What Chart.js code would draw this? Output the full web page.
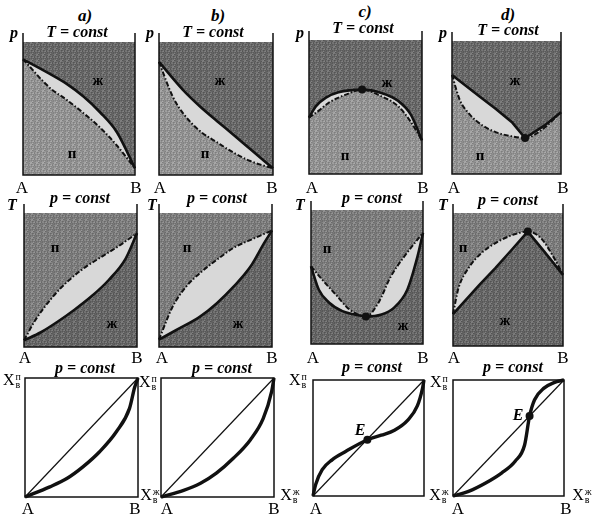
<!DOCTYPE html>
<html lang="ru">
<head>
<meta charset="utf-8">
<script src="https://cdn.jsdelivr.net/npm/chart.js"></script>
<style>
    body { margin: 0; background: #fff; }
    #fig { position: relative; width: 595px; height: 522px; overflow: hidden;
           font-family: "Liberation Serif", "DejaVu Serif", serif; color: #000; }
    #fig canvas { position: absolute; }
    .t { position: absolute; transform: translate(-50%, -50%); white-space: nowrap; line-height: 1; }
    .bi { font-weight: bold; font-style: italic; font-size: 16px; }
    .hd { font-weight: bold; font-style: italic; font-size: 17px; }
    .ab { font-size: 17px; }
    .ru { font-weight: bold; font-size: 15px; }
    .x { font-size: 16px; }
    .ss { display: inline-block; vertical-align: middle; font-size: 10px; line-height: 8px; margin-left: 1px; }
    .ss span { display: block; }
</style>
<title>Phase diagrams</title>
</head>
<body>
<div id="fig"></div>

<script>
    // x = mole fraction of B (A = 0, B = 1), y = fraction of the box height

    // row 1: p–x, T = const  (solid = liquid, dash-dot = vapour)
    const pxLiqA = [[0, .87], [.24, .76], [.39, .685], [.54, .59], [.69, .47], [.84, .32], [1, .05]];
    const pxVapA = [[0, .87], [.24, .655], [.39, .565], [.54, .465], [.69, .355], [.84, .22], [1, .05]];
    const pxLiqB = [[0, .85], [.21, .64], [.36, .515], [.51, .405], [.65, .305], [.8, .195], [1, .05]];
    const pxVapB = [[0, .85], [.12, .59], [.21, .465], [.36, .33], [.51, .245], [.65, .17], [.8, .105], [1, .05]];
    const pxLiqC = [[0, .42], [.06, .505], [.15, .57], [.26, .61], [.47, .63], [.64, .605], [.79, .545], [.9, .445], [1, .25]];
    const pxVapC = [[0, .42], [.09, .475], [.18, .535], [.32, .59], [.47, .63], [.64, .58], [.79, .505], [.9, .39], [1, .25]];
    const pxLiqD = [[0, .745], [.25, .585], [.4, .49], [.55, .39], [.67, .27], [.85, .365], [1, .465]];
    const pxVapD = [[0, .745], [.07, .56], [.16, .45], [.28, .365], [.4, .315], [.55, .283], [.67, .27], [.82, .33], [1, .465]];
    const pxAzeoC = [[.47, .63]];
    const pxAzeoD = [[.67, .27]];

    // row 2: T–x, p = const
    const txLiqA = [[0, .05], [.15, .11], [.3, .19], [.45, .28], [.6, .38], [.75, .5], [.9, .66], [1, .85]];
    const txVapA = [[0, .05], [.1, .2], [.25, .37], [.4, .5], [.55, .6], [.7, .68], [.85, .76], [1, .85]];
    const txLiqB = [[0, .055], [.15, .125], [.36, .225], [.51, .325], [.66, .45], [.81, .6], [.93, .775], [1, .87]];
    const txVapB = [[0, .055], [.12, .3], [.24, .45], [.36, .55], [.51, .65], [.66, .74], [.84, .81], [1, .87]];
    const txLiqC = [[0, .58], [.07, .405], [.16, .31], [.28, .245], [.39, .22], [.49, .205], [.63, .22], [.74, .27], [.86, .405], [.95, .65], [1, .83]];
    const txVapC = [[0, .58], [.1, .48], [.22, .37], [.34, .26], [.49, .205], [.6, .305], [.71, .5], [.83, .65], [1, .83]];
    const txLiqD = [[0, .24], [.24, .46], [.385, .585], [.53, .72], [.68, .86], [.83, .71], [1, .535]];
    const txVapD = [[0, .24], [.05, .435], [.14, .585], [.26, .7], [.41, .785], [.56, .84], [.68, .86], [.8, .81], [.92, .66], [1, .535]];
    const txAzeoC = [[.49, .205]];
    const txAzeoD = [[.68, .86]];

    // row 3: y–x, p = const
    const diag = [[0, 0], [1, 1]];
    const yxA = [[0, 0], [.22, .085], [.37, .155], [.515, .255], [.66, .38], [.81, .55], [.925, .745], [.97, .92], [1, 1]];
    const yxB = [[0, 0], [.2, .055], [.35, .115], [.49, .2], [.64, .325], [.79, .48], [.905, .66], [.98, .89], [1, 1]];
    const yxC = [[0, 0], [.024, .1], [.083, .227], [.172, .312], [.29, .382], [.49, .485], [.615, .524], [.734, .567], [.852, .652], [.941, .779], [.985, .921], [1, 1]];
    const yxD = [[0, 0], [.14, .04], [.29, .11], [.44, .2], [.56, .3], [.645, .44], [.69, .69], [.735, .83], [.82, .93], [.91, .978], [1, 1]];
    const yxAzeoC = [[.49, .485]];
    const yxAzeoD = [[.69, .69]];

    const fig = document.getElementById('fig');
    const pts = a => a.map(([x, y]) => ({ x, y }));
    const DASH = [5, 2, 1.5, 2];

    // grey stipple like the scanned halftone
    function shade(g) {
        const tile = document.createElement('canvas');
        tile.width = tile.height = 6;
        const c = tile.getContext('2d');
        for (let i = 0; i < 6; i++) {
            for (let j = 0; j < 6; j++) {
                const v = Math.max(0, Math.min(255, g + (((i * 37 + j * 61 + (i * j) % 7 * 11) % 17) - 8) * 3));
                c.fillStyle = `rgb(${v},${v},${v})`;
                c.fillRect(i, j, 1, 1);
            }
        }
        return c.createPattern(tile, 'repeat');
    }

    const frame = {
        id: 'frame',
        beforeDraw(chart, args, o) {
            const a = chart.chartArea, ctx = chart.ctx;
            ctx.save();
            ctx.fillStyle = o.bg;
            ctx.fillRect(a.left, a.top, a.right - a.left, a.bottom - a.top);
            ctx.restore();
        },
        afterDraw(chart, args, o) {
            const a = chart.chartArea, ctx = chart.ctx;
            ctx.save();
            ctx.strokeStyle = '#111';
            ctx.lineWidth = 1.5;
            if (o.box) {
                ctx.strokeRect(a.left, a.top, a.right - a.left, a.bottom - a.top);
            } else {
                ctx.beginPath();
                ctx.moveTo(a.left, a.top - o.ext);
                ctx.lineTo(a.left, a.bottom);
                ctx.lineTo(a.right, a.bottom);
                ctx.lineTo(a.right, a.top - o.ext);
                ctx.stroke();
            }
            ctx.restore();
        }
    };

    function makePanel(p) {
        const [l, t, r, b] = p.box, pad = 3, ext = p.ext || 0;
        const cv = document.createElement('canvas');
        cv.width = r - l + 2 * pad;
        cv.height = b - t + 2 * pad + ext;
        cv.style.left = (l - pad) + 'px';
        cv.style.top = (t - pad - ext) + 'px';
        fig.appendChild(cv);

        const datasets = [];
        if (p.dots) {
            datasets.push({ data: pts(p.dots), showLine: false, pointRadius: 4, pointBackgroundColor: '#111', pointBorderWidth: 0 });
        }
        for (const c of p.curves) {
            datasets.push({
                data: pts(c.d),
                borderColor: '#111',
                borderWidth: c.w || 2.4,
                borderDash: c.dash ? DASH : [],
                fill: c.fill || false,
                backgroundColor: c.bg || 'transparent',
                tension: c.straight ? 0 : 0.4,
                cubicInterpolationMode: c.straight ? 'default' : 'monotone',
                pointRadius: 0,
                clip: false
            });
        }

        new Chart(cv, {
            type: 'line',
            data: { datasets },
            options: {
                animation: false,
                responsive: false,
                layout: { padding: { left: pad, right: pad, top: pad + ext, bottom: pad } },
                plugins: {
                    legend: { display: false },
                    tooltip: { enabled: false },
                    frame: { bg: p.lens || '#fff', ext, box: !!p.boxed }
                },
                scales: {
                    x: { type: 'linear', min: 0, max: 1, display: false },
                    y: { type: 'linear', min: 0, max: 1, display: false }
                }
            },
            plugins: [frame]
        });
    }

    const LENS = '#d8d8d8';
    const LIQ1 = shade(108), VAP1 = shade(150);
    const VAP2 = shade(128), LIQ2 = shade(106);

    const row1 = [
        { box: [23, 42, 135, 175], liq: pxLiqA, vap: pxVapA },
        { box: [159, 42, 273, 175], liq: pxLiqB, vap: pxVapB },
        { box: [308, 40, 423, 175], liq: pxLiqC, vap: pxVapC, dots: pxAzeoC },
        { box: [451, 41, 562, 175], liq: pxLiqD, vap: pxVapD, dots: pxAzeoD, straight: true }
    ];
    row1.forEach(p => makePanel({
        box: p.box, ext: 9, lens: LENS, dots: p.dots,
        curves: [
            { d: p.liq, fill: 'end', bg: LIQ1, w: 2.6, straight: p.straight },
            { d: p.vap, fill: 'start', bg: VAP1, dash: true, w: 2 }
        ]
    }));

    const row2 = [
        { box: [24, 213, 137, 347], liq: txLiqA, vap: txVapA },
        { box: [159, 213, 272, 347], liq: txLiqB, vap: txVapB },
        { box: [310, 210, 424, 345], liq: txLiqC, vap: txVapC, dots: txAzeoC },
        { box: [452, 213, 564, 347], liq: txLiqD, vap: txVapD, dots: txAzeoD, straight: true }
    ];
    row2.forEach(p => makePanel({
        box: p.box, ext: 9, lens: LENS, dots: p.dots,
        curves: [
            { d: p.liq, fill: 'start', bg: LIQ2, w: 2.6, straight: p.straight },
            { d: p.vap, fill: 'end', bg: VAP2, dash: true, w: 2 }
        ]
    }));

    const row3 = [
        { box: [25, 378, 138, 497], d: yxA },
        { box: [161, 378, 274, 497], d: yxB },
        { box: [312, 379, 425, 497], d: yxC, dots: yxAzeoC },
        { box: [452, 379, 565, 497], d: yxD, dots: yxAzeoD }
    ];
    row3.forEach(p => makePanel({
        box: p.box, boxed: true, dots: p.dots,
        curves: [
            { d: p.d, w: 3.4 },
            { d: diag, w: 1.2, straight: true }
        ]
    }));

    // text
    function label(html, x, y, cls) {
        const d = document.createElement('div');
        d.className = 't ' + cls;
        d.innerHTML = html;
        d.style.left = x + 'px';
        d.style.top = y + 'px';
        fig.appendChild(d);
    }
    const xLab = (sup) => 'X<span class="ss"><span>' + sup + '</span><span>в</span></span>';

    [['a)', 85, 15], ['b)', 218, 15], ['c)', 365, 11], ['d)', 508, 14]].forEach(a => label(a[0], a[1], a[2], 'hd'));
    [[77, 32], [213, 32], [363, 28], [508, 30]].forEach(a => label('T = const', a[0], a[1], 'bi'));
    [[14, 33], [150, 33], [300, 33], [443, 33]].forEach(a => label('p', a[0], a[1], 'bi'));
    [[98, 80], [220, 80], [387, 82], [515, 80], [112, 323], [238, 323], [403, 325], [505, 320]].forEach(a => label('ж', a[0], a[1], 'ru'));
    [[72, 153], [205, 153], [345, 155], [480, 155], [55, 247], [187, 247], [327, 248], [463, 247]].forEach(a => label('п', a[0], a[1], 'ru'));

    [[22, 136, 187], [160, 272, 187], [312, 423, 187], [454, 563, 187],
     [25, 137, 357], [162, 272, 357], [313, 423, 357], [454, 563, 357]].forEach(a => {
        label('A', a[0], a[2], 'ab');
        label('B', a[1], a[2], 'ab');
    });

    [[80, 198], [217, 198], [372, 198], [508, 200], [85, 368], [222, 368], [372, 367], [513, 367]].forEach(a => label('p = const', a[0], a[1], 'bi'));
    [[12, 205], [152, 205], [300, 205], [443, 205]].forEach(a => label('T', a[0], a[1], 'bi'));

    [[12, 381], [148, 383], [298, 381], [439, 383]].forEach(a => label(xLab('п'), a[0], a[1], 'x'));
    [[150, 496], [290, 496], [439, 496], [582, 496]].forEach(a => label(xLab('ж'), a[0], a[1], 'x'));
    [[28, 508], [167, 508], [316, 508], [458, 508]].forEach(a => label('A', a[0], a[1], 'ab'));
    [[135, 508], [274, 508], [566, 508]].forEach(a => label('B', a[0], a[1], 'ab'));
    [[360, 430], [518, 415]].forEach(a => label('E', a[0], a[1], 'bi'));
</script>
</body>
</html>
